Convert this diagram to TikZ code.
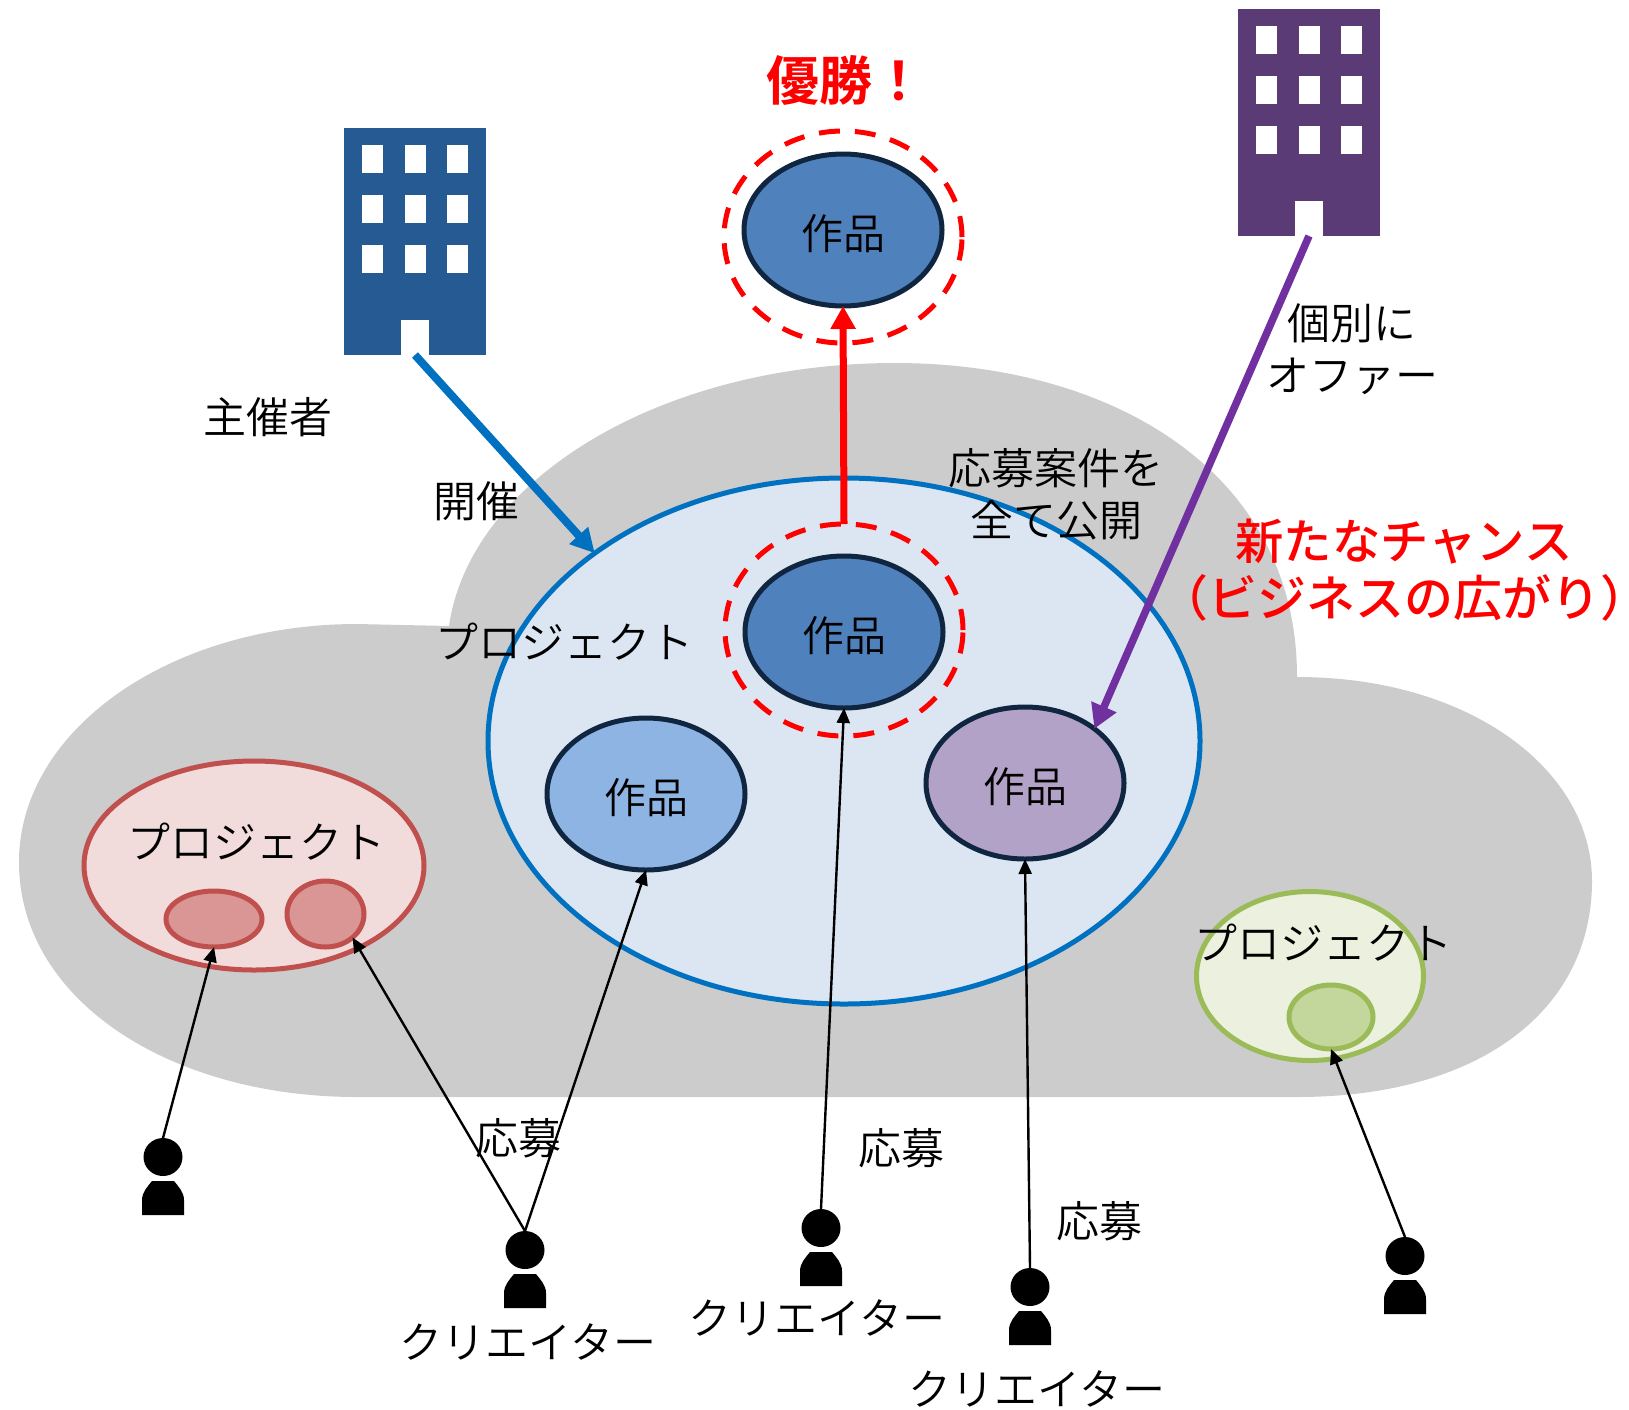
\documentclass[tikz,border=0pt]{standalone}
\usepackage{fontspec}
\setmainfont{Noto Sans CJK JP}[UprightFont=* DemiLight]
\newfontfamily\redjp{Noto Sans CJK JP}[UprightFont=* Medium]
\newfontfamily\winjp{Noto Sans CJK JP}[UprightFont=* Bold]
\usetikzlibrary{shapes.geometric,arrows.meta}
\definecolor{cloudgray}{HTML}{CCCCCC}
\definecolor{projblue}{HTML}{0070C0}
\definecolor{projfill}{HTML}{DCE6F2}
\definecolor{navy}{HTML}{10253F}
\definecolor{workA}{HTML}{4F81BD}
\definecolor{workB}{HTML}{8EB4E3}
\definecolor{workC}{HTML}{B3A2C7}
\definecolor{pinkline}{HTML}{C0504D}
\definecolor{pinkfill}{HTML}{F2DCDB}
\definecolor{pinksmall}{HTML}{D99694}
\definecolor{greenline}{HTML}{9BBB59}
\definecolor{greenfill}{HTML}{EBF1DE}
\definecolor{greensmall}{HTML}{C3D69B}
\definecolor{bldgblue}{HTML}{265A92}
\definecolor{bldgpurple}{HTML}{5A3B76}
\definecolor{offer}{HTML}{7030A0}
\tikzset{
  x=1pt,y=-1pt,
  oval/.style={ellipse,inner sep=0pt,outer sep=0pt},
  work/.style={oval,draw=navy,line width=5pt,minimum width=198pt,minimum height=152pt,font=\fontsize{42pt}{42pt}\selectfont},
  winring/.style={oval,draw=red,line width=5pt,dash pattern=on 21pt off 15pt,minimum width=238pt,minimum height=212pt},
  pinkoval/.style={oval,draw=pinkline,line width=5pt},
  greenoval/.style={oval,draw=greenline,line width=5pt},
  lab/.style={inner sep=0pt,align=center,font=\fontsize{43pt}{52pt}\selectfont},
  redlab/.style={inner sep=0pt,align=center,text=red,font=\redjp\fontsize{49pt}{57pt}\selectfont},
  head/.style={oval,fill=black,minimum width=39pt,minimum height=38pt},
  apply/.style={-{Triangle[length=15pt,width=13pt]},line width=2.4pt,black},
  bldg/.style={rectangle,inner sep=0pt,outer sep=0pt,minimum width=142pt,minimum height=227pt},
}
\newcommand{\bldgparts}[2]{%
  \foreach \cx in {0,42.6,85.2}{\foreach \cy in {0,50,100}{%
    \fill[white] (#1+18+\cx,#2+17+\cy) rectangle (#1+39+\cx,#2+45+\cy);}}%
  \fill[white] (#1+57,#2+192) rectangle (#1+85,#2+227);}
\newcommand{\bodyat}[2]{%
  \fill[black] (#1-21,#2+77) -- (#1-21,#2+62) .. controls (#1-21,#2+54) and (#1-15,#2+48) .. (#1-11,#2+43) -- (#1+11,#2+43) .. controls (#1+15,#2+48) and (#1+21,#2+54) .. (#1+21,#2+62) -- (#1+21,#2+77) -- cycle;}
\newcommand{\worktext}{\raisebox{-19.5pt}[0pt][0pt]{作品}}
\begin{document}
\begin{tikzpicture}
\useasboundingbox (0,0) rectangle (1629,1409);
% cloud
\fill[cloudgray] (19,862) .. controls (19,730) and (170,624) .. (357,624)
  -- (449,626) .. controls (470,480) and (660,363) .. (895,363)
  .. controls (1110,363) and (1297,470) .. (1297,677)
  .. controls (1470,677) and (1592,770) .. (1592,881)
  .. controls (1592,1010) and (1480,1097) .. (1297,1097)
  -- (357,1097) .. controls (170,1097) and (19,1000) .. (19,862) -- cycle;
% buildings
\node[bldg,fill=bldgblue] (orgA) at (415,241.5) {};
\bldgparts{344}{128}
\node[bldg,fill=bldgpurple] (orgB) at (1309,122.5) {};
\bldgparts{1238}{9}
% projects
\node[oval,draw=projblue,fill=projfill,line width=5pt,minimum width=712pt,minimum height=526pt] (main) at (844,741) {};
\node[pinkoval,fill=pinkfill,minimum width=340pt,minimum height=209pt] (pinkp) at (254,865.5) {};
\node[pinkoval,fill=pinksmall,minimum width=96pt,minimum height=56pt] (pinkA) at (214,919) {};
\node[pinkoval,fill=pinksmall,minimum width=77pt,minimum height=66pt] (pinkB) at (325.5,914) {};
\node[greenoval,fill=greenfill,minimum width=227pt,minimum height=169pt] (greenp) at (1310,976) {};
\node[greenoval,fill=greensmall,minimum width=84pt,minimum height=64pt] (greenA) at (1331,1017) {};
% works
\node[winring] (ringtop) at (843,237) {};
\node[winring] (ringmid) at (844,630) {};
\node[work,fill=workA] (wintop) at (843,230) {\worktext};
\node[work,fill=workA] (winmid) at (844,632) {\worktext};
\node[work,fill=workB] (workleft) at (646,794) {\worktext};
\node[work,fill=workC] (workright) at (1025,783) {\worktext};
% people
\node[head] (p1) at (163,1157) {}; \bodyat{163}{1138}
\node[head] (p2) at (525,1250) {}; \bodyat{525}{1231}
\node[head] (p3) at (821,1228) {}; \bodyat{821}{1209}
\node[head] (p4) at (1030,1287) {}; \bodyat{1030}{1268}
\node[head] (p5) at (1405,1256) {}; \bodyat{1405}{1237}
% connectors
\draw[-{Triangle[length=24pt,width=24pt]},line width=8pt,projblue] (orgA.south) -- (main.143.5);
\draw[-{Triangle[length=23pt,width=24pt]},line width=7pt,red] (ringmid.north) -- (wintop.south);
\draw[-{Triangle[length=24pt,width=26pt]},line width=7.5pt,offer] (orgB.south) -- (workright.38);
\draw[apply] (p1.north) -- (pinkA.south);
\draw[apply] (p2.north) -- (pinkB.-41);
\draw[apply] (p2.north) -- (workleft.south);
\draw[apply] (p3.north) -- (winmid.south);
\draw[apply] (p4.north) -- (workright.south);
\draw[apply] (p5.north) -- (greenA.south);
% labels
\node[lab] (lhost) at (268,417) {主催者};
\node[lab] (lopen) at (476,501) {開催};
\node[lab] (lmain) at (564,642) {プロジェクト};
\node[lab] (lpublic) at (1056,494) {応募案件を\\全て公開};
\node[lab] (loffer) at (1352,349) {個別に\\オファー};
\node[redlab] (lchance) at (1404,570) {{\fontsize{48.4pt}{57pt}\selectfont 新たなチャンス}\\（ビジネスの広がり）};
\node[inner sep=0pt,text=red,font=\winjp\fontsize{53pt}{53pt}\selectfont] (lwin) at (846,80) {優勝！};
\node[lab] (lpink) at (256,842) {プロジェクト};
\node[lab] (lgreen) at (1323,943) {プロジェクト};
\node[lab] (la1) at (518,1138) {応募};
\node[lab] (la2) at (901,1148) {応募};
\node[lab] (la3) at (1099,1221) {応募};
\node[lab] (lc1) at (528,1342) {クリエイター};
\node[lab] (lc2) at (817,1318) {クリエイター};
\node[lab] (lc3) at (1037,1389) {クリエイター};
\end{tikzpicture}
\end{document}
